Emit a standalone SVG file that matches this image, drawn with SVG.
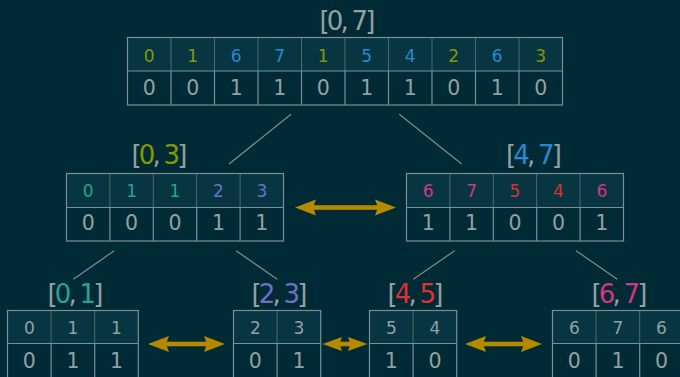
<svg xmlns="http://www.w3.org/2000/svg" width="680" height="377" viewBox="0 0 680 377">
<style>
.hd{fill:#073642;stroke:none}
.vl{fill:#002b36;stroke:none}
.sep{stroke:#4f6a70;stroke-width:1}
.brd{fill:none;stroke:#7a8f93;stroke-width:1.2}
.ln{stroke:#7a8f93;stroke-width:1.2}
.h{font-family:"DejaVu Sans",sans-serif;font-size:17px;text-anchor:middle;fill:#93a1a1}
.v{font-family:"DejaVu Sans",sans-serif;font-size:20.5px;text-anchor:middle;fill:#93a1a1}
.lb{font-family:"DejaVu Sans",sans-serif;font-size:26px;letter-spacing:-2.8px;text-anchor:middle;fill:#93a1a1}
.g{fill:#859900}.b{fill:#268bd2}.c{fill:#2aa198}.p{fill:#6c71c4}.r{fill:#dc322f}.m{fill:#d33682}
.arr{fill:#b58900}
</style>
<rect width="680" height="377" fill="#002b36"/>

<g id="connectors">
<line class="ln" x1="291" y1="114.3" x2="229" y2="164"/>
<line class="ln" x1="399.3" y1="114.3" x2="461.7" y2="164"/>
<line class="ln" x1="114.3" y1="250.7" x2="73.3" y2="279.3"/>
<line class="ln" x1="236" y1="250.7" x2="277.3" y2="279.3"/>
<line class="ln" x1="454.7" y1="250.7" x2="413.3" y2="279.3"/>
<line class="ln" x1="576" y1="250.7" x2="617.3" y2="279.3"/>
<g class="arr">
<rect x="312" y="205.2" width="67" height="4.6"/>
<polygon points="295,207.5 316,199.5 313,207.5 316,215.5"/>
<polygon points="396,207.5 375,199.5 378,207.5 375,215.5"/>
<rect x="165" y="341.7" width="44" height="4.6"/>
<polygon points="148,344 169,336 166,344 169,352"/>
<polygon points="225,344 204,336 207,344 204,352"/>
<rect x="338" y="341.7" width="18" height="4.6"/>
<polygon points="322.5,344 342,337 339.5,344 342,351"/>
<polygon points="367.5,344 348,337 350.5,344 348,351"/>
<rect x="482" y="341.7" width="43" height="4.6"/>
<polygon points="465,344 486,336 483,344 486,352"/>
<polygon points="542,344 521,336 524,344 521,352"/>
</g>
</g>

<g id="n07">
<text class="lb" x="346" y="29.5">[0, 7]</text>
<rect class="hd" x="127.5" y="37.5" width="435" height="33.5"/>
<rect class="vl" x="127.5" y="71" width="435" height="34"/>
<g class="sep">
<line x1="171" y1="37.5" x2="171" y2="71"/><line x1="214.5" y1="37.5" x2="214.5" y2="71"/><line x1="258" y1="37.5" x2="258" y2="71"/><line x1="301.5" y1="37.5" x2="301.5" y2="71"/><line x1="345" y1="37.5" x2="345" y2="71"/><line x1="388.5" y1="37.5" x2="388.5" y2="71"/><line x1="432" y1="37.5" x2="432" y2="71"/><line x1="475.5" y1="37.5" x2="475.5" y2="71"/><line x1="519" y1="37.5" x2="519" y2="71"/>
</g>
<g class="brd">
<rect x="127.5" y="37.5" width="435" height="67.5"/>
<line x1="127.5" y1="71" x2="562.5" y2="71"/>
<line x1="171" y1="71" x2="171" y2="105"/><line x1="214.5" y1="71" x2="214.5" y2="105"/><line x1="258" y1="71" x2="258" y2="105"/><line x1="301.5" y1="71" x2="301.5" y2="105"/><line x1="345" y1="71" x2="345" y2="105"/><line x1="388.5" y1="71" x2="388.5" y2="105"/><line x1="432" y1="71" x2="432" y2="105"/><line x1="475.5" y1="71" x2="475.5" y2="105"/><line x1="519" y1="71" x2="519" y2="105"/>
</g>
<text class="h g" x="149.25" y="61.5">0</text><text class="h g" x="192.75" y="61.5">1</text><text class="h b" x="236.25" y="61.5">6</text><text class="h b" x="279.75" y="61.5">7</text><text class="h g" x="323.25" y="61.5">1</text><text class="h b" x="366.75" y="61.5">5</text><text class="h b" x="410.25" y="61.5">4</text><text class="h g" x="453.75" y="61.5">2</text><text class="h b" x="497.25" y="61.5">6</text><text class="h g" x="540.75" y="61.5">3</text>
<text class="v" x="149.25" y="95">0</text><text class="v" x="192.75" y="95">0</text><text class="v" x="236.25" y="95">1</text><text class="v" x="279.75" y="95">1</text><text class="v" x="323.25" y="95">0</text><text class="v" x="366.75" y="95">1</text><text class="v" x="410.25" y="95">1</text><text class="v" x="453.75" y="95">0</text><text class="v" x="497.25" y="95">1</text><text class="v" x="540.75" y="95">0</text>
</g>

<g id="n03">
<text class="lb" x="158" y="163.5">[<tspan class="g">0</tspan>, <tspan class="g">3</tspan>]</text>
<rect class="hd" x="66.5" y="173.5" width="217" height="34"/>
<g class="sep"><line x1="109.9" y1="173.5" x2="109.9" y2="207.5"/><line x1="153.3" y1="173.5" x2="153.3" y2="207.5"/><line x1="196.7" y1="173.5" x2="196.7" y2="207.5"/><line x1="240.1" y1="173.5" x2="240.1" y2="207.5"/></g>
<g class="brd">
<rect x="66.5" y="173.5" width="217" height="67.5"/>
<line x1="66.5" y1="207.5" x2="283.5" y2="207.5"/>
<line x1="109.9" y1="207.5" x2="109.9" y2="241"/><line x1="153.3" y1="207.5" x2="153.3" y2="241"/><line x1="196.7" y1="207.5" x2="196.7" y2="241"/><line x1="240.1" y1="207.5" x2="240.1" y2="241"/>
</g>
<text class="h c" x="88.2" y="196.8">0</text><text class="h c" x="131.6" y="196.8">1</text><text class="h c" x="175" y="196.8">1</text><text class="h p" x="218.4" y="196.8">2</text><text class="h p" x="261.8" y="196.8">3</text>
<text class="v" x="88.2" y="230">0</text><text class="v" x="131.6" y="230">0</text><text class="v" x="175" y="230">0</text><text class="v" x="218.4" y="230">1</text><text class="v" x="261.8" y="230">1</text>
</g>

<g id="n47">
<text class="lb" x="532.5" y="163.5">[<tspan class="b">4</tspan>, <tspan class="b">7</tspan>]</text>
<rect class="hd" x="406.5" y="173.5" width="217" height="34"/>
<g class="sep"><line x1="449.9" y1="173.5" x2="449.9" y2="207.5"/><line x1="493.3" y1="173.5" x2="493.3" y2="207.5"/><line x1="536.7" y1="173.5" x2="536.7" y2="207.5"/><line x1="580.1" y1="173.5" x2="580.1" y2="207.5"/></g>
<g class="brd">
<rect x="406.5" y="173.5" width="217" height="67.5"/>
<line x1="406.5" y1="207.5" x2="623.5" y2="207.5"/>
<line x1="449.9" y1="207.5" x2="449.9" y2="241"/><line x1="493.3" y1="207.5" x2="493.3" y2="241"/><line x1="536.7" y1="207.5" x2="536.7" y2="241"/><line x1="580.1" y1="207.5" x2="580.1" y2="241"/>
</g>
<text class="h m" x="428.2" y="196.8">6</text><text class="h m" x="471.6" y="196.8">7</text><text class="h r" x="515" y="196.8">5</text><text class="h r" x="558.4" y="196.8">4</text><text class="h m" x="601.8" y="196.8">6</text>
<text class="v" x="428.2" y="230">1</text><text class="v" x="471.6" y="230">1</text><text class="v" x="515" y="230">0</text><text class="v" x="558.4" y="230">0</text><text class="v" x="601.8" y="230">1</text>
</g>

<g id="n01">
<text class="lb" x="74" y="303">[<tspan class="c">0</tspan>, <tspan class="c">1</tspan>]</text>
<rect class="hd" x="7.5" y="310.5" width="130.8" height="33"/>
<g class="sep"><line x1="51.1" y1="310.5" x2="51.1" y2="343.5"/><line x1="94.7" y1="310.5" x2="94.7" y2="343.5"/></g>
<g class="brd">
<rect x="7.5" y="310.5" width="130.8" height="70"/>
<line x1="7.5" y1="343.5" x2="138.3" y2="343.5"/>
<line x1="51.1" y1="343.5" x2="51.1" y2="380"/><line x1="94.7" y1="343.5" x2="94.7" y2="380"/>
</g>
<text class="h" x="29.3" y="334">0</text><text class="h" x="72.9" y="334">1</text><text class="h" x="116.5" y="334">1</text>
<text class="v" x="29.3" y="367.5">0</text><text class="v" x="72.9" y="367.5">1</text><text class="v" x="116.5" y="367.5">1</text>
</g>

<g id="n23">
<text class="lb" x="278" y="303">[<tspan class="p">2</tspan>, <tspan class="p">3</tspan>]</text>
<rect class="hd" x="233.5" y="310.5" width="87.2" height="33"/>
<g class="sep"><line x1="277.1" y1="310.5" x2="277.1" y2="343.5"/></g>
<g class="brd">
<rect x="233.5" y="310.5" width="87.2" height="70"/>
<line x1="233.5" y1="343.5" x2="320.7" y2="343.5"/>
<line x1="277.1" y1="343.5" x2="277.1" y2="380"/>
</g>
<text class="h" x="255.3" y="334">2</text><text class="h" x="298.9" y="334">3</text>
<text class="v" x="255.3" y="367.5">0</text><text class="v" x="298.9" y="367.5">1</text>
</g>

<g id="n45">
<text class="lb" x="414" y="303">[<tspan class="r">4</tspan>, <tspan class="r">5</tspan>]</text>
<rect class="hd" x="369.5" y="310.5" width="87.2" height="33"/>
<g class="sep"><line x1="413.1" y1="310.5" x2="413.1" y2="343.5"/></g>
<g class="brd">
<rect x="369.5" y="310.5" width="87.2" height="70"/>
<line x1="369.5" y1="343.5" x2="456.7" y2="343.5"/>
<line x1="413.1" y1="343.5" x2="413.1" y2="380"/>
</g>
<text class="h" x="391.3" y="334">5</text><text class="h" x="434.9" y="334">4</text>
<text class="v" x="391.3" y="367.5">1</text><text class="v" x="434.9" y="367.5">0</text>
</g>

<g id="n67">
<text class="lb" x="618" y="303">[<tspan class="m">6</tspan>, <tspan class="m">7</tspan>]</text>
<rect class="hd" x="552.5" y="310.5" width="130.8" height="33"/>
<g class="sep"><line x1="596.1" y1="310.5" x2="596.1" y2="343.5"/><line x1="639.7" y1="310.5" x2="639.7" y2="343.5"/></g>
<g class="brd">
<rect x="552.5" y="310.5" width="130.8" height="70"/>
<line x1="552.5" y1="343.5" x2="683.3" y2="343.5"/>
<line x1="596.1" y1="343.5" x2="596.1" y2="380"/><line x1="639.7" y1="343.5" x2="639.7" y2="380"/>
</g>
<text class="h" x="574.3" y="334">6</text><text class="h" x="617.9" y="334">7</text><text class="h" x="661.5" y="334">6</text>
<text class="v" x="574.3" y="367.5">0</text><text class="v" x="617.9" y="367.5">1</text><text class="v" x="661.5" y="367.5">0</text>
</g>
</svg>
